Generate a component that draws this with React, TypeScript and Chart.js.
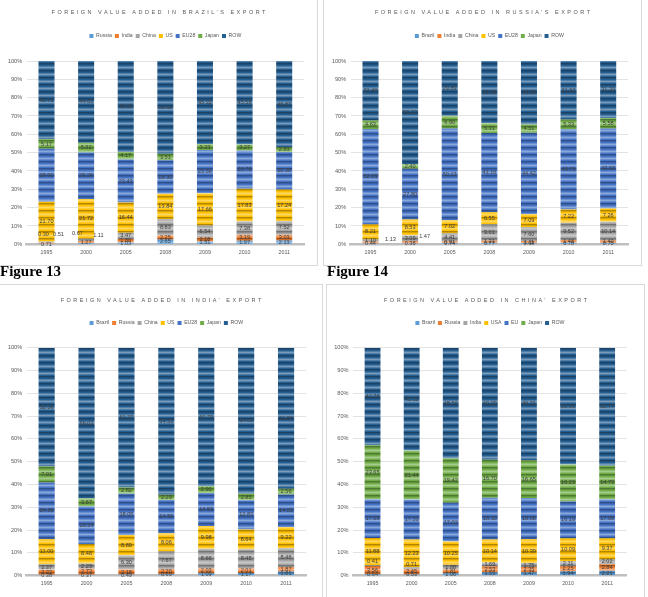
import { useEffect, useRef } from 'react';
import { Chart, registerables } from 'chart.js';

Chart.register(...registerables);

// ---- data -------------------------------------------------------------
const years = ['1995', '2000', '2005', '2008', '2009', '2010', '2011'];
const percentStep = 10;

// Brazil
const brazilPartners = ['Russia', 'India', 'China', 'US', 'EU28', 'Japan', 'ROW'];
const brazilFromRussia = [0.30, 0.67, 1.03, 2.65, 1.51, 1.97, 2.13];
const brazilFromIndia = [0.51, 1.11, 1.86, 2.25, 2.18, 3.19, 3.03];
const brazilFromChina = [0.71, 1.27, 3.47, 8.83, 6.54, 7.38, 7.52];
const brazilFromUS = [21.70, 21.72, 16.44, 13.84, 17.66, 17.83, 17.24];
const brazilFromEU28 = [28.90, 25.26, 23.43, 18.30, 23.56, 20.78, 20.38];
const brazilFromJapan = [5.17, 5.32, 4.17, 3.51, 3.23, 3.27, 2.83];
const brazilFromROW = [42.71, 44.65, 49.60, 50.62, 45.32, 45.58, 46.87];

// Russia
const russiaPartners = ['Brazil', 'India', 'China', 'US', 'EU28', 'Japan', 'ROW'];
const russiaFromBrazil = [0.44, 0.38, 0.74, 0.77, 0.68, 0.78, 0.70];
const russiaFromIndia = [1.13, 1.47, 0.91, 1.21, 1.11, 1.48, 1.40];
const russiaFromChina = [1.10, 3.09, 4.41, 9.01, 7.60, 9.52, 10.14];
const russiaFromUS = [8.21, 8.53, 7.02, 6.55, 7.09, 7.22, 7.26];
const russiaFromEU28 = [52.09, 27.80, 50.13, 43.16, 44.42, 43.75, 43.63];
const russiaFromJapan = [4.63, 2.40, 6.90, 5.31, 4.51, 5.33, 5.58];
const russiaFromROW = [32.40, 56.33, 29.89, 33.99, 34.59, 31.92, 31.29];

// India
const indiaPartners = ['Brazil', 'Russia', 'China', 'US', 'EU28', 'Japan', 'ROW'];
const indiaFromBrazil = [0.38, 0.37, 0.49, 0.69, 1.09, 1.17, 1.81];
const indiaFromRussia = [2.22, 2.73, 2.18, 2.20, 2.03, 2.01, 1.87];
const indiaFromChina = [2.37, 2.29, 6.30, 7.67, 8.66, 8.45, 8.46];
const indiaFromUS = [11.00, 8.48, 8.89, 8.06, 9.98, 8.64, 9.22];
const indiaFromEU28 = [24.96, 16.54, 18.05, 14.56, 14.55, 12.83, 14.22];
const indiaFromJapan = [7.01, 3.57, 2.82, 2.29, 2.90, 2.85, 2.56];
const indiaFromROW = [52.06, 66.02, 61.27, 64.53, 60.79, 64.05, 61.86];

// China
const chinaPartners = ['Brazil', 'Russia', 'India', 'USA', 'EU', 'Japan', 'ROW'];
const chinaFromBrazil = [0.64, 0.53, 1.06, 1.55, 1.47, 1.94, 2.21];
const chinaFromRussia = [3.56, 2.45, 1.81, 2.53, 2.35, 2.25, 2.84];
const chinaFromIndia = [0.41, 0.71, 1.88, 1.69, 1.75, 2.11, 2.02];
const chinaFromUSA = [11.88, 12.23, 10.25, 10.14, 10.39, 10.09, 9.37];
const chinaFromEU = [17.08, 17.53, 17.02, 18.30, 18.08, 16.19, 17.06];
const chinaFromJapan = [23.65, 21.44, 19.42, 16.70, 16.65, 16.23, 14.73];
const chinaFromROW = [42.78, 45.11, 48.56, 49.09, 49.31, 51.19, 51.77];

// ---- styling ----------------------------------------------------------
const seriesColors = ['#5B9BD5', '#ED7D31', '#A5A5A5', '#FFC000', '#4472C4', '#70AD47', '#255E91'];
const FONT = '"Liberation Sans", Arial, sans-serif';
const TEXT_GREY = '#595959';

type Nudge = { series: number; year: number; dx: number; dy: number };

type PanelSpec = {
  title: string;
  partners: string[];
  series: number[][];
  nudges: Nudge[];
  frame: { left: number; top: number; width: number; height: number };
  canvas: { left: number; top: number; width: number; height: number };
  pad: { top: number; right: number; bottom: number };
  gap: number;
  axisWidth: number;
  titleY: number;
};

function mix(hex: string, t: number): string {
  const n = parseInt(hex.slice(1), 16);
  let r = (n >> 16) & 255, g = (n >> 8) & 255, b = n & 255;
  const target = t >= 0 ? 255 : 0;
  const k = Math.abs(t);
  r = Math.round(r + (target - r) * k);
  g = Math.round(g + (target - g) * k);
  b = Math.round(b + (target - b) * k);
  return `rgb(${r},${g},${b})`;
}

// horizontal banded fill used on every bar segment
function stripePattern(ctx: CanvasRenderingContext2D, base: string): CanvasPattern | string {
  const tile = document.createElement('canvas');
  tile.width = 2;
  tile.height = 7;
  const t = tile.getContext('2d');
  if (!t) return base;
  const rows = [-0.3, -0.15, 0, 0.2, 0.38, 0.2, 0];
  rows.forEach((shade, i) => {
    t.fillStyle = shade === 0 ? base : mix(base, shade);
    t.fillRect(0, i, 2, 1);
  });
  return ctx.createPattern(tile, 'repeat') || base;
}

const spacedTitle = {
  id: 'spacedTitle',
  afterDraw(chart: any, _args: any, opts: any) {
    const ctx = chart.ctx as CanvasRenderingContext2D;
    ctx.save();
    ctx.font = `5.5px ${FONT}`;
    (ctx as any).letterSpacing = '2.5px';
    ctx.fillStyle = TEXT_GREY;
    ctx.textAlign = 'center';
    ctx.textBaseline = 'middle';
    ctx.fillText(opts.text, chart.width / 2 + 1.25, opts.y);
    ctx.restore();
  },
};

const valueLabels = {
  id: 'valueLabels',
  afterDraw(chart: any, _args: any, opts: any) {
    const ctx = chart.ctx as CanvasRenderingContext2D;
    const nudges: Nudge[] = opts.nudges || [];
    ctx.save();
    ctx.font = `5.6px ${FONT}`;
    ctx.fillStyle = '#404040';
    ctx.textAlign = 'center';
    ctx.textBaseline = 'middle';
    chart.data.datasets.forEach((ds: any, i: number) => {
      const meta = chart.getDatasetMeta(i);
      meta.data.forEach((bar: any, j: number) => {
        const v = ds.data[j] as number;
        const n = nudges.find((q) => q.series === i && q.year === j);
        const x = bar.x + (n ? n.dx : 0);
        const y = (bar.y + bar.base) / 2 + (n ? n.dy : 0);
        ctx.fillText(v.toFixed(2), x, y);
      });
    });
    ctx.restore();
  },
};

const panels: PanelSpec[] = [
  {
    title: 'FOREIGN VALUE ADDED IN BRAZIL’S EXPORT',
    partners: brazilPartners,
    series: [brazilFromRussia, brazilFromIndia, brazilFromChina, brazilFromUS, brazilFromEU28, brazilFromJapan, brazilFromROW],
    nudges: [
      { series: 0, year: 0, dx: -3, dy: -9.5 },
      { series: 1, year: 0, dx: 12, dy: -8.6 },
      { series: 2, year: 0, dx: 0, dy: 2 },
      { series: 0, year: 1, dx: -8.7, dy: -9.7 },
      { series: 1, year: 1, dx: 12.3, dy: -7 },
      { series: 2, year: 1, dx: 0, dy: 2.8 },
    ],
    frame: { left: -1, top: -1, width: 319, height: 267 },
    canvas: { left: 0, top: 0, width: 317, height: 265 },
    pad: { top: 30.4, right: 13, bottom: 6.7 },
    gap: 11.2,
    axisWidth: 26.7,
    titleY: 12.7,
  },
  {
    title: 'FOREIGN VALUE ADDED IN RUSSIA’S EXPORT',
    partners: russiaPartners,
    series: [russiaFromBrazil, russiaFromIndia, russiaFromChina, russiaFromUS, russiaFromEU28, russiaFromJapan, russiaFromROW],
    nudges: [
      { series: 1, year: 0, dx: 20, dy: -3.5 },
      { series: 1, year: 1, dx: 14.5, dy: -5.6 },
    ],
    frame: { left: 323, top: -1, width: 319, height: 267 },
    canvas: { left: 324, top: 0, width: 317, height: 265 },
    pad: { top: 30.4, right: 13, bottom: 6.7 },
    gap: 11.2,
    axisWidth: 26.7,
    titleY: 12.7,
  },
  {
    title: 'FOREIGN VALUE ADDED IN INDIA’ EXPORT',
    partners: indiaPartners,
    series: [indiaFromBrazil, indiaFromRussia, indiaFromChina, indiaFromUS, indiaFromEU28, indiaFromJapan, indiaFromROW],
    nudges: [],
    frame: { left: -1, top: 284, width: 324, height: 320 },
    canvas: { left: 0, top: 285, width: 322, height: 312 },
    pad: { top: 32.4, right: 16, bottom: 7.3 },
    gap: 10.9,
    axisWidth: 26.7,
    titleY: 15,
  },
  {
    title: 'FOREIGN VALUE ADDED IN CHINA’ EXPORT',
    partners: chinaPartners,
    series: [chinaFromBrazil, chinaFromRussia, chinaFromIndia, chinaFromUSA, chinaFromEU, chinaFromJapan, chinaFromROW],
    nudges: [
      { series: 2, year: 0, dx: 0, dy: -4 },
      { series: 2, year: 1, dx: 0, dy: -4 },
    ],
    frame: { left: 326, top: 284, width: 319, height: 320 },
    canvas: { left: 327, top: 285, width: 317, height: 312 },
    pad: { top: 32.4, right: 17.3, bottom: 7.3 },
    gap: 10.9,
    axisWidth: 26,
    titleY: 15,
  },
];

function StackedPanel({ spec }: { spec: PanelSpec }) {
  const ref = useRef<HTMLCanvasElement | null>(null);

  useEffect(() => {
    const canvas = ref.current;
    if (!canvas) return;
    const ctx = canvas.getContext('2d');
    if (!ctx) return;

    const datasets = spec.series.map((values, i) => ({
      label: spec.partners[i],
      data: values,
      backgroundColor: stripePattern(ctx, seriesColors[i]),
      borderWidth: 0,
      categoryPercentage: 1,
      barPercentage: 0.405,
    }));

    const chart = new Chart(canvas, {
      type: 'bar',
      data: { labels: years, datasets },
      options: {
        responsive: false,
        animation: false,
        devicePixelRatio: 1,
        layout: { padding: { top: spec.pad.top, left: 0, right: spec.pad.right, bottom: spec.pad.bottom } },
        plugins: {
          legend: {
            position: 'top',
            fullSize: false,
            labels: {
              boxWidth: 4,
              boxHeight: 4,
              padding: 3,
              color: TEXT_GREY,
              font: { size: 5.2, family: FONT },
              generateLabels: (c: any) =>
                Chart.defaults.plugins.legend.labels.generateLabels(c).map((item: any, i: number) => ({
                  ...item,
                  fillStyle: seriesColors[i],
                  strokeStyle: seriesColors[i],
                  lineWidth: 0,
                })),
            },
          },
          subtitle: {
            display: true,
            text: '',
            weight: 500,
            font: { size: 1 },
            padding: { top: 0, bottom: spec.gap },
          },
          tooltip: { enabled: false },
          spacedTitle: { text: spec.title, y: spec.titleY },
          valueLabels: { nudges: spec.nudges },
        } as any,
        scales: {
          x: {
            stacked: true,
            z: 1,
            grid: { display: false, drawTicks: false },
            border: { display: true, color: '#BFBFBF', width: 2.6 },
            ticks: { color: TEXT_GREY, font: { size: 5.3, family: FONT }, padding: 5 },
            afterFit: (s: any) => {
              s.height = 14;
            },
          },
          y: {
            stacked: true,
            min: 0,
            max: 100,
            grid: { color: '#D9D9D9', lineWidth: 0.75, drawTicks: false },
            border: { display: false },
            ticks: {
              stepSize: percentStep,
              color: TEXT_GREY,
              font: { size: 5.6, family: FONT },
              padding: 4.5,
              callback: (v: any) => `${v}%`,
            },
            afterFit: (s: any) => {
              s.width = spec.axisWidth;
            },
          },
        } as any,
      },
      plugins: [spacedTitle, valueLabels],
    });

    return () => chart.destroy();
  }, [spec]);

  return (
    <>
      <div
        style={{
          position: 'absolute',
          left: spec.frame.left,
          top: spec.frame.top,
          width: spec.frame.width,
          height: spec.frame.height,
          boxSizing: 'border-box',
          border: '1px solid #D9D9D9',
        }}
      />
      <canvas
        ref={ref}
        width={spec.canvas.width}
        height={spec.canvas.height}
        style={{
          position: 'absolute',
          left: spec.canvas.left,
          top: spec.canvas.top,
          width: spec.canvas.width,
          height: spec.canvas.height,
        }}
      />
    </>
  );
}

const figureLabelStyle = {
  position: 'absolute' as const,
  top: 264,
  fontFamily: '"Liberation Serif", "Times New Roman", serif',
  fontWeight: 700,
  fontSize: 15,
  lineHeight: '15px',
  color: '#000',
};

export default function App() {
  return (
    <div
      style={{
        position: 'absolute',
        left: 0,
        top: 0,
        width: 648,
        height: 597,
        background: '#fff',
        overflow: 'hidden',
      }}
    >
      {panels.map((p) => (
        <StackedPanel key={p.title} spec={p} />
      ))}
      <div style={{ ...figureLabelStyle, left: 0 }}>Figure 13</div>
      <div style={{ ...figureLabelStyle, left: 327 }}>Figure 14</div>
    </div>
  );
}
